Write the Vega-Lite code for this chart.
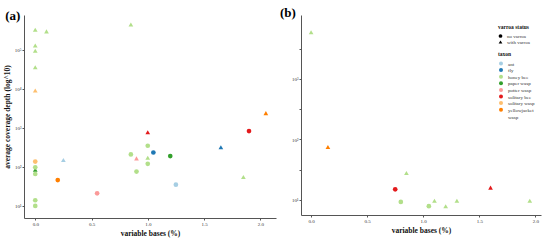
{
  "$schema": "https://vega.github.io/schema/vega-lite/v6.json",
  "padding": {"left": 3, "top": 7, "right": 7, "bottom": 5},
  "spacing": 4,
  "config": {
    "font": "Liberation Serif",
    "view": {"stroke": null},
    "axis": {"domainColor": "#555", "tickColor": "#555", "labelColor": "#333", "labelFontSize": 5, "titleFontSize": 7.5, "titleFontWeight": "bold", "titleColor": "#111", "grid": false, "tickSize": 2, "labelPadding": 1, "titlePadding": 3},
    "title": {"color": "#000"}
  },
  "datasets": {
    "a": [
      {"bases": 0, "depth": 85, "taxon": "paper wasp", "varroa": "with varroa"},
      {"bases": 0, "depth": 330000, "taxon": "honey bee", "varroa": "with varroa"},
      {"bases": 0.1, "depth": 300000, "taxon": "honey bee", "varroa": "with varroa"},
      {"bases": 0.85, "depth": 450000, "taxon": "honey bee", "varroa": "with varroa"},
      {"bases": 0, "depth": 130000, "taxon": "honey bee", "varroa": "with varroa"},
      {"bases": 0, "depth": 96000, "taxon": "honey bee", "varroa": "with varroa"},
      {"bases": 0, "depth": 36000, "taxon": "honey bee", "varroa": "with varroa"},
      {"bases": 0, "depth": 9100, "taxon": "solitary wasp", "varroa": "with varroa"},
      {"bases": 2.05, "depth": 2400, "taxon": "yellowjacket wasp", "varroa": "with varroa"},
      {"bases": 1.0, "depth": 780, "taxon": "solitary bee", "varroa": "with varroa"},
      {"bases": 1.65, "depth": 320, "taxon": "fly", "varroa": "with varroa"},
      {"bases": 0.25, "depth": 150, "taxon": "ant", "varroa": "with varroa"},
      {"bases": 0.9, "depth": 166, "taxon": "potter wasp", "varroa": "with varroa"},
      {"bases": 1.0, "depth": 173, "taxon": "honey bee", "varroa": "with varroa"},
      {"bases": 1.85, "depth": 55, "taxon": "honey bee", "varroa": "with varroa"},
      {"bases": 1.9, "depth": 830, "taxon": "solitary bee", "varroa": "no varroa"},
      {"bases": 1.0, "depth": 350, "taxon": "honey bee", "varroa": "no varroa"},
      {"bases": 1.05, "depth": 235, "taxon": "fly", "varroa": "no varroa"},
      {"bases": 1.2, "depth": 190, "taxon": "paper wasp", "varroa": "no varroa"},
      {"bases": 0.85, "depth": 210, "taxon": "honey bee", "varroa": "no varroa"},
      {"bases": 0, "depth": 137, "taxon": "solitary wasp", "varroa": "no varroa"},
      {"bases": 0, "depth": 98, "taxon": "honey bee", "varroa": "no varroa"},
      {"bases": 1.0, "depth": 120, "taxon": "honey bee", "varroa": "no varroa"},
      {"bases": 0, "depth": 66, "taxon": "honey bee", "varroa": "no varroa"},
      {"bases": 0.9, "depth": 76, "taxon": "honey bee", "varroa": "no varroa"},
      {"bases": 0.2, "depth": 46, "taxon": "yellowjacket wasp", "varroa": "no varroa"},
      {"bases": 1.25, "depth": 35, "taxon": "ant", "varroa": "no varroa"},
      {"bases": 0.55, "depth": 21, "taxon": "potter wasp", "varroa": "no varroa"},
      {"bases": 0, "depth": 14, "taxon": "honey bee", "varroa": "no varroa"},
      {"bases": 0, "depth": 10, "taxon": "honey bee", "varroa": "no varroa"}
    ],
    "b": [
      {"bases": 0, "depth": 5900, "taxon": "honey bee", "varroa": "with varroa"},
      {"bases": 0.15, "depth": 75, "taxon": "yellowjacket wasp", "varroa": "with varroa"},
      {"bases": 0.85, "depth": 28, "taxon": "honey bee", "varroa": "with varroa"},
      {"bases": 0.75, "depth": 15, "taxon": "solitary bee", "varroa": "no varroa"},
      {"bases": 1.6, "depth": 16, "taxon": "solitary bee", "varroa": "with varroa"},
      {"bases": 0.8, "depth": 9.3, "taxon": "honey bee", "varroa": "no varroa"},
      {"bases": 1.05, "depth": 7.9, "taxon": "honey bee", "varroa": "no varroa"},
      {"bases": 1.1, "depth": 9.7, "taxon": "honey bee", "varroa": "with varroa"},
      {"bases": 1.2, "depth": 7.9, "taxon": "honey bee", "varroa": "with varroa"},
      {"bases": 1.3, "depth": 9.7, "taxon": "honey bee", "varroa": "with varroa"},
      {"bases": 1.95, "depth": 9.7, "taxon": "honey bee", "varroa": "with varroa"}
    ]
  },
  "resolve": {"scale": {"color": "independent", "shape": "independent"}, "legend": {"color": "independent", "shape": "independent"}},
  "hconcat": [
    {
      "width": 252,
      "height": 203,
      "title": {"text": "(a)", "anchor": "start", "frame": "bounds", "fontSize": 13, "fontWeight": "bold", "dx": 2, "offset": -8},
      "data": {"name": "a"},
      "mark": {"type": "point", "filled": true, "opacity": 1, "size": 22},
      "encoding": {
        "x": {"field": "bases", "type": "quantitative", "scale": {"domain": [-0.1, 2.14], "nice": false, "zero": false},
              "axis": {"values": [0, 0.5, 1, 1.5, 2], "format": ".1f", "title": "variable bases (%)"}},
        "y": {"field": "depth", "type": "quantitative", "scale": {"type": "log", "domain": [4.9, 790000], "nice": false},
              "axis": {"values": [10, 100, 1000, 10000, 100000], "labelExpr": "'10' + ['⁰','¹','²','³','⁴','⁵','⁶'][round(log(datum.value)/LN10)]", "title": "average coverage depth (log^10)"}},
        "color": {"field": "taxon", "type": "nominal",
                  "scale": {"domain": ["ant", "fly", "honey bee", "paper wasp", "potter wasp", "solitary bee", "solitary wasp", "yellowjacket wasp"],
                            "range": ["#a6cee3", "#1f78b4", "#b2df8a", "#33a02c", "#fb9a99", "#e31a1c", "#fdbf6f", "#ff7f00"]},
                  "legend": null},
        "shape": {"field": "varroa", "type": "nominal", "scale": {"domain": ["no varroa", "with varroa"], "range": ["circle", "triangle-up"]}, "legend": null}
      }
    },
    {
      "width": 240,
      "height": 200,
      "title": {"text": "(b)", "anchor": "start", "frame": "group", "fontSize": 13, "fontWeight": "bold", "dx": -21, "offset": -5},
      "data": {"name": "b"},
      "mark": {"type": "point", "filled": true, "opacity": 1, "size": 22},
      "encoding": {
        "x": {"field": "bases", "type": "quantitative", "scale": {"domain": [-0.09, 2.05], "nice": false, "zero": false},
              "axis": {"values": [0, 0.5, 1, 1.5, 2], "format": ".1f", "title": "variable bases (%)"}},
        "y": {"field": "depth", "type": "quantitative", "scale": {"type": "log", "domain": [5.65, 11400], "nice": false},
              "axis": {"values": [10, 31.62, 100, 316.2, 1000, 3162], "labelExpr": "abs(log(datum.value)/LN10 - round(log(datum.value)/LN10)) < 0.01 ? '10' + ['⁰','¹','²','³','⁴','⁵','⁶'][round(log(datum.value)/LN10)] : ''", "title": null}},
        "color": {"field": "taxon", "type": "nominal",
                  "scale": {"domain": ["ant", "fly", "honey bee", "paper wasp", "potter wasp", "solitary bee", "solitary wasp", "yellowjacket wasp"],
                            "range": ["#a6cee3", "#1f78b4", "#b2df8a", "#33a02c", "#fb9a99", "#e31a1c", "#fdbf6f", "#ff7f00"]},
                  "legend": {"title": "taxon", "orient": "none", "legendX": 197, "legendY": 37, "titleFontSize": 5.5, "titleFontWeight": "bold", "titleColor": "#111", "labelFontSize": 5, "labelColor": "#333", "symbolType": "circle", "symbolSize": 16, "rowPadding": 0.6, "titlePadding": 3, "labelOffset": 4,
                             "labelExpr": "datum.label == 'yellowjacket wasp' ? ['yellowjacket', 'wasp'] : datum.label"}},
        "shape": {"field": "varroa", "type": "nominal", "scale": {"domain": ["no varroa", "with varroa"], "range": ["circle", "triangle-up"]},
                  "legend": {"title": "varroa status", "orient": "none", "legendX": 197, "legendY": 10, "titleFontSize": 5.5, "titleFontWeight": "bold", "titleColor": "#111", "labelFontSize": 5, "labelColor": "#333", "symbolSize": 14, "symbolFillColor": "#000", "symbolStrokeColor": "#000", "symbolStrokeWidth": 0, "rowPadding": 0, "titlePadding": 3, "labelOffset": 4}}
      }
    }
  ]
}
